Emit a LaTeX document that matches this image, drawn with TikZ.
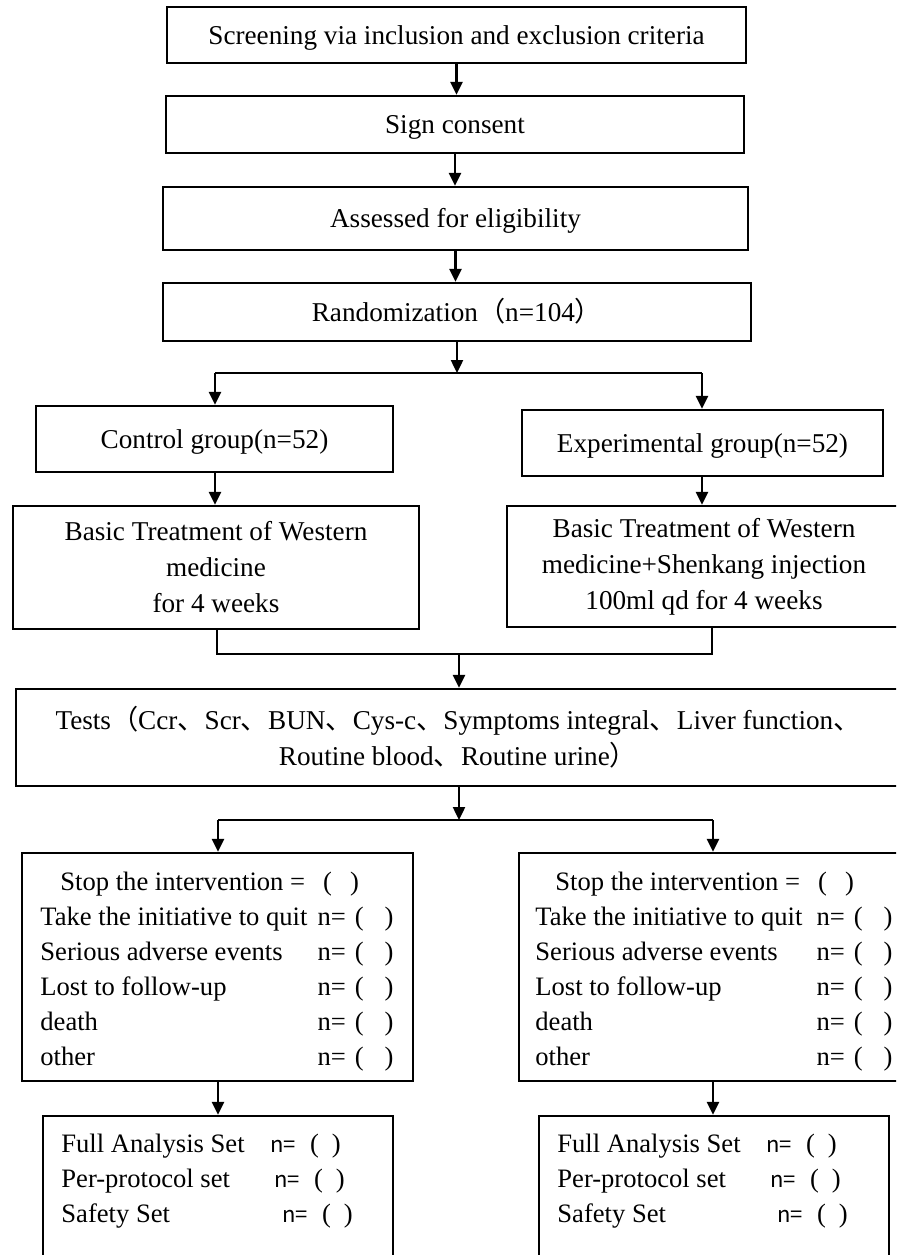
\documentclass[tikz,border=0pt]{standalone}
\usepackage{fontspec}
\setmainfont{Liberation Serif}
\newfontfamily\cjk{Noto Sans CJK SC}
\usetikzlibrary{arrows.meta}
\newcommand\zdn{{\cjk 、}}
\newcommand\zlp{{\cjk （}}
\newcommand\zrp{{\cjk ）}}
\newcommand\nval{n=\hspace{4.5pt}(\hspace{10.5pt})}
\newcommand\sval{{\cjk\fontsize{11}{13}\selectfont n=}\hspace{7pt}(\hspace{6.5pt})}
\begin{document}
\begin{tikzpicture}[x=0.5pt,y=-0.5pt,
  box/.style={draw,line width=1.2pt,inner sep=0pt,align=center,font=\fontsize{13.6}{18}\selectfont},
  one/.style={text height=9pt,text depth=0pt},
  txt/.style={inner sep=0pt,font=\fontsize{13.3}{18}\selectfont},
  ln/.style={line width=1.2pt},
  arr/.style={line width=1.2pt,-{Triangle[length=6.5pt,width=6pt]}}]
\useasboundingbox (0,0) rectangle (896,1255);
\clip (0,0) rectangle (896,1255);
% top chain
\node[box,one,minimum width=289.5pt,minimum height=28pt] (s1) at (456.5,35) {Screening via inclusion and exclusion criteria};
\node[box,one,minimum width=289pt,minimum height=28.5pt] (s2) at (455,124.5) {Sign consent};
\node[box,one,minimum width=292.5pt,minimum height=31.5pt] (s3) at (455.5,218.5) {Assessed for eligibility};
\node[box,one,minimum width=294pt,minimum height=29pt] (s4) at (457,312) {Randomization\zlp n=104\zrp};
% groups
\node[box,one,minimum width=178.5pt,minimum height=33pt] (cg) at (214.5,439) {Control group(n=52)};
\node[box,one,minimum width=180.5pt,minimum height=33pt] (eg) at (702.5,443) {Experimental group(n=52)};
\node[box,minimum width=203pt,minimum height=61.5pt] (tl) at (216,567.5) {Basic Treatment of Western\\medicine\\for 4 weeks};
\node[box,minimum width=197pt,minimum height=60.5pt] (tr) at (704,566.5) {Basic Treatment of Western\\medicine+Shenkang injection\\100ml qd for 4 weeks};
% tests
\node[box,minimum width=442pt,minimum height=48.5pt] (ts) at (458,737.5) {Tests\zlp Ccr\zdn Scr\zdn BUN\zdn Cys-c\zdn Symptoms integral\zdn Liver function\zdn\\Routine blood\zdn Routine urine\zrp};
% lists
\node[box,minimum width=195.5pt,minimum height=114pt] (ll) at (217.5,967) {};
\node[box,minimum width=191pt,minimum height=114pt] (lr) at (710,967) {};
\node[box,minimum width=175pt,minimum height=74.5pt] (sl) at (218,1190.5) {};
\node[box,minimum width=175pt,minimum height=74.5pt] (sr) at (714,1190.5) {};
% connectors
\draw[arr] (s1.south) -- (s1.south |- s2.north);
\draw[arr] (s2.south) -- (s2.south |- s3.north);
\draw[arr] (s3.south) -- (s3.south |- s4.north);
\coordinate (b1) at (457,373);
\coordinate (b1l) at (215,373);
\coordinate (b1r) at (702,373);
\draw[arr] (s4.south -| b1) -- (b1);
\draw[ln] (b1l) -- (b1r);
\draw[arr] (b1l) -- (b1l |- cg.north);
\draw[arr] (b1r) -- (b1r |- eg.north);
\draw[arr] (cg.south -| b1l) -- (b1l |- tl.north);
\draw[arr] (eg.south -| b1r) -- (b1r |- tr.north);
\coordinate (ml) at (217,654);
\coordinate (mr) at (712,654);
\coordinate (m) at (459,654);
\draw[ln] (tl.south -| ml) -- (ml) -- (mr) -- ([yshift=1pt]tr.south -| mr);
\draw[arr] (m) -- (m |- ts.north);
\coordinate (b2) at (459,820);
\coordinate (b2l) at (218,820);
\coordinate (b2r) at (713,820);
\draw[arr] (ts.south -| b2) -- (b2);
\draw[ln] (b2l) -- (b2r);
\draw[arr] (b2l) -- (b2l |- ll.north);
\draw[arr] (b2r) -- (b2r |- lr.north);
\draw[arr] (ll.south -| b2l) -- (b2l |- sl.north);
\draw[arr] (lr.south -| b2r) -- (b2r |- sr.north);
% list texts
\node[txt,anchor=base west] (la0) at (60,890) {Stop the intervention =\hspace{9pt}(\hspace{9pt})};
\node[txt,anchor=base west] (ra0) at (555,890) {Stop the intervention =\hspace{9pt}(\hspace{9pt})};
\foreach \t/\y [count=\i] in {Take the initiative to quit/925, Serious adverse events/960, Lost to follow-up/995, death/1030, other/1065} {
  \node[txt,anchor=base west] (la\i) at (40,\y) {\t};
  \node[txt,anchor=base east] (na\i) at (394,\y) {\nval};
  \node[txt,anchor=base west] (ra\i) at (535,\y) {\t};
  \node[txt,anchor=base east] (nb\i) at (893,\y) {\nval};
}
% set texts
\foreach \t/\y/\xa/\xb [count=\i] in {Full Analysis Set/1152/270/766, Per-protocol set/1187/274/770, Safety Set/1222/282/777} {
  \node[txt,anchor=base west] (sa\i) at (61,\y) {\t};
  \node[txt,anchor=base west] (va\i) at (\xa,\y) {\sval};
  \node[txt,anchor=base west] (sb\i) at (557,\y) {\t};
  \node[txt,anchor=base west] (vb\i) at (\xb,\y) {\sval};
}
\end{tikzpicture}
\end{document}
